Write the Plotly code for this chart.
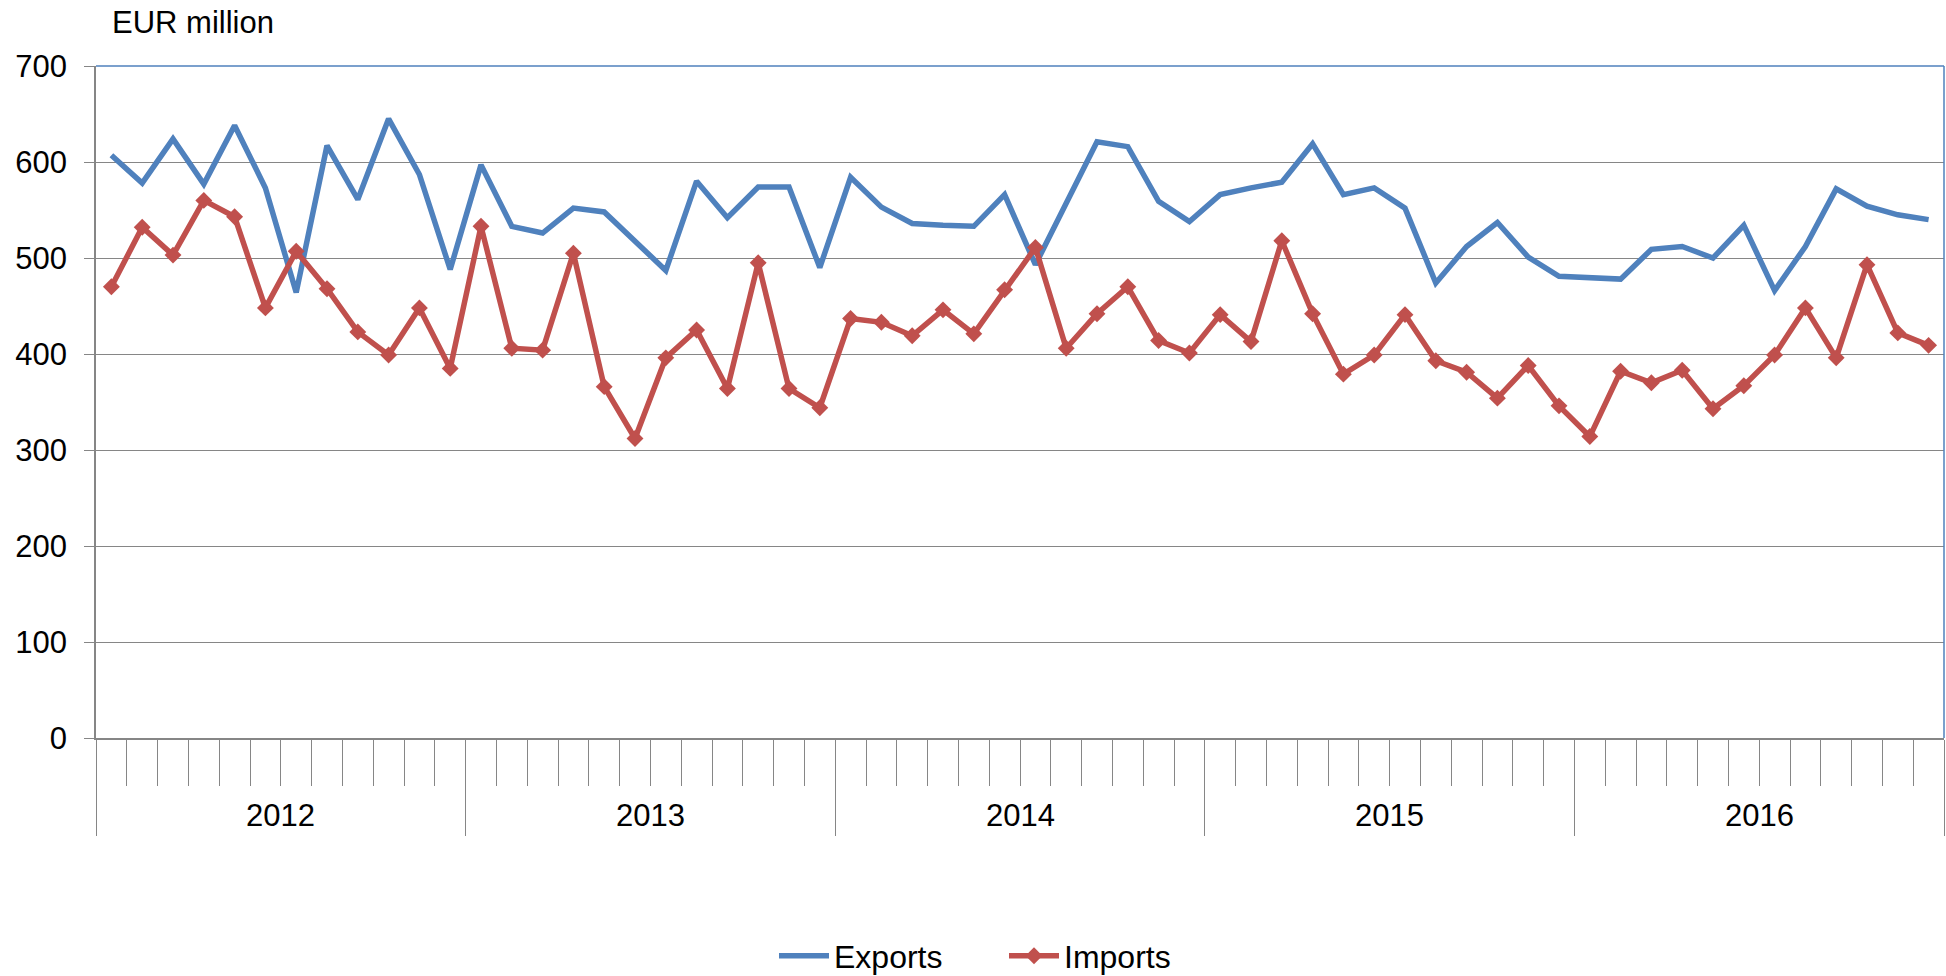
import plotly.graph_objects as go

years = ["2012", "2013", "2014", "2015", "2016"]
months = [f"{y}-{m:02d}" for y in years for m in range(1, 13)]

exports = [607, 578, 624, 577, 638, 573, 464, 617, 561, 645, 587, 488,
           597, 533, 526, 552, 548, 517, 487, 580, 542, 574, 574, 490,
           584, 553, 536, 534, 533, 566, 493, 557, 621, 616, 559, 538,
           566, 573, 579, 619, 566, 573, 552, 474, 512, 537, 501, 481,
           479, 478, 509, 512, 500, 534, 466, 512, 572, 554, 545, 540]

imports = [470, 532, 503, 560, 543, 448, 507, 468, 423, 399, 448, 385,
           533, 406, 404, 505, 366, 312, 396, 425, 364, 495, 364, 344,
           437, 433, 419, 446, 421, 467, 511, 406, 442, 470, 414, 401,
           441, 413, 518, 442, 379, 399, 441, 393, 381, 354, 388, 346,
           314, 382, 370, 383, 343, 367, 399, 448, 396, 493, 422, 409]

y_ticks = [0, 100, 200, 300, 400, 500, 600, 700]

FONT = "Liberation Sans, Arial, sans-serif"
BLUE = "#4F81BD"
RED = "#C0504D"
GRAY = "#868686"

W, H = 1946, 976
L, R, T, B = 96, 2, 66, 238

x_idx = list(range(len(months)))

fig = go.Figure()
fig.add_trace(go.Scatter(
    x=x_idx, y=exports, name="Exports", mode="lines",
    line=dict(color=BLUE, width=5.5), customdata=months,
))
fig.add_trace(go.Scatter(
    x=x_idx, y=imports, name="Imports", mode="lines+markers",
    line=dict(color=RED, width=5.5),
    marker=dict(symbol="diamond", size=13, color=RED), customdata=months,
))

n = len(months)
year_bounds = [i * 12 - 0.5 for i in range(len(years) + 1)]

fig.update_xaxes(
    range=[-0.5, n - 0.5], showgrid=False, zeroline=False, automargin=False,
    showline=True, linecolor=GRAY, linewidth=1.5,
    tickmode="array", tickvals=year_bounds, ticks="outside", ticklen=96,
    tickcolor=GRAY, tickwidth=1.2, showticklabels=False,
    minor=dict(tickmode="linear", tick0=-0.5, dtick=1, ticks="outside",
               ticklen=46, tickcolor=GRAY, tickwidth=1.2, showgrid=False),
)
fig.update_yaxes(
    range=[0, 700], tickmode="array", tickvals=y_ticks, automargin=False,
    showgrid=True, gridcolor=GRAY, gridwidth=1.3, zeroline=False,
    showline=True, linecolor=GRAY, linewidth=1.5,
    ticks="outside", ticklen=10, tickcolor=GRAY, tickwidth=1.2,
    ticklabelstandoff=11,
    tickfont=dict(family=FONT, size=31, color="black"),
)

# plot-area border (top and right) in blue
fig.add_shape(type="line", xref="paper", yref="paper", x0=0, x1=1, y0=1, y1=1,
              line=dict(color=BLUE, width=1.5), layer="above")
fig.add_shape(type="line", xref="paper", yref="paper", x0=1, x1=1, y0=0, y1=1,
              line=dict(color=BLUE, width=1.5), layer="above")

for k, yr in enumerate(years):
    fig.add_annotation(x=k * 12 + 5.5, y=0, xref="x", yref="paper",
                       text=yr, showarrow=False, yanchor="middle",
                       yshift=-77, font=dict(family=FONT, size=31, color="black"))

fig.add_annotation(x=0, y=1, xref="paper", yref="paper", text="EUR million",
                   showarrow=False, xanchor="left", yanchor="middle",
                   xshift=14, yshift=44,
                   font=dict(family=FONT, size=31, color="black"))

fig.update_layout(
    width=W, height=H,
    margin=dict(l=L, r=R, t=T, b=B),
    paper_bgcolor="white", plot_bgcolor="white",
    font=dict(family=FONT, size=31, color="black"),
    showlegend=True,
    hovermode=False,
    legend=dict(orientation="h", x=1004 / W, xref="container", xanchor="center",
                y=1 - 956 / H, yref="container", yanchor="middle",
                itemwidth=50, entrywidth=165,
                font=dict(family=FONT, size=32, color="black"),
                bgcolor="rgba(0,0,0,0)"),
)

fig.write_html("out.html", config={"displayModeBar": False},
               post_script="document.body.style.margin='0';document.body.style.overflow='hidden';")
